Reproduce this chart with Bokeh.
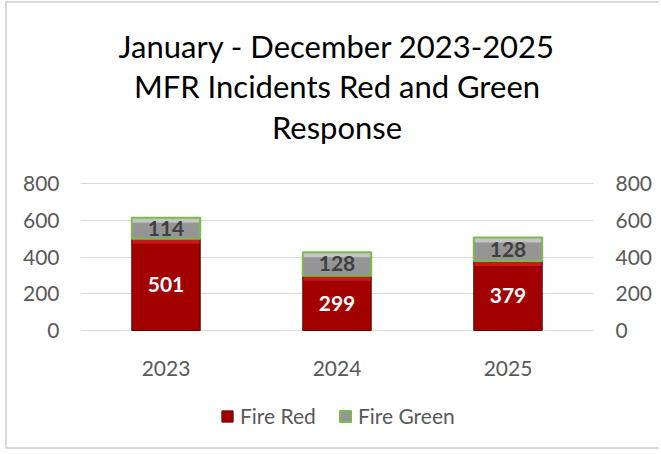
from bokeh.plotting import figure
from bokeh.models import (ColumnDataSource, LabelSet, Legend, LegendItem, LinearAxis,
                          Label, FixedTicker, Range1d, FactorRange)
from bokeh.core.properties import value
from bokeh.embed import file_html
from bokeh.resources import INLINE

years = ["2023", "2024", "2025"]
fire_red = [501, 299, 379]
fire_green = [114, 128, 128]
y_ticks = [0, 200, 400, 600, 800]
title_lines = ["January - December 2023-2025", "MFR Incidents Red and Green", "Response"]

FONT = "Lato"

# ---- layout (canvas px) ----
W, H = 654, 448          # canvas inside css border
FRAME_L, FRAME_R = 73, 586
Y0_PX, Y800_PX = 327.0, 180.3
K = (Y0_PX - Y800_PX) / 800.0            # px per data unit
def v(py):                                 # canvas px -> data value
    return (Y0_PX - py) / K
y_top, y_bot = v(0), v(H)
BAND = 5.0 / K                             # bevel band height in data units
BAR_W = 0.40

red_mid = [r / 2 for r in fire_red]
green_top = [r + g for r, g in zip(fire_red, fire_green)]
green_mid = [r + g / 2 for r, g in zip(fire_red, fire_green)]

src = ColumnDataSource(dict(
    x=years, red=fire_red, green=fire_green, green_top=green_top,
    red_mid=red_mid, green_mid=green_mid,
    red_hi=[r - BAND for r in fire_red],
    green_hi=[t - BAND for t in green_top],
    red_lbl=[str(x) for x in fire_red], green_lbl=[str(x) for x in fire_green],
))

p = figure(x_range=FactorRange(*years), y_range=Range1d(y_bot, y_top),
           width=W, height=H, output_backend="svg", toolbar_location=None,
           x_axis_location=None,
           min_border_left=FRAME_L, min_border_right=W - FRAME_R,
           min_border_top=0, min_border_bottom=0)
p.styles = {"margin-left": "5px", "margin-top": "1px",
            "border-left": "2px solid #d9d9d9", "border-top": "2px solid #d9d9d9",
            "border-bottom": "2px solid #d9d9d9"}
p.title.visible = False
p.outline_line_color = None
p.background_fill_color = "white"
p.border_fill_color = "white"

# bars (with a light bevel band at the top of each segment)
r_red = p.vbar(x="x", bottom=0, top="red", width=BAR_W, source=src,
               fill_color="#A30000", line_color=None)
p.vbar(x="x", bottom="red_hi", top="red", width=BAR_W, source=src,
       fill_color="#C41A1A", line_color=None)
r_red_o = p.vbar(x="x", bottom=0, top="red", width=BAR_W, source=src,
                 fill_color=None, line_color="#5E0000", line_width=1)

r_green = p.vbar(x="x", bottom="red", top="green_top", width=BAR_W, source=src,
                 fill_color="#959595", line_color=None)
p.vbar(x="x", bottom="green_hi", top="green_top", width=BAR_W, source=src,
       fill_color="#C4C4C4", line_color=None)
r_green_o = p.vbar(x="x", bottom="red", top="green_top", width=BAR_W, source=src,
                   fill_color=None, line_color="#7CBA4E", line_width=2)

p.add_layout(LabelSet(x="x", y="red_mid", text="red_lbl", source=src,
                      text_align="center", text_baseline="middle",
                      text_color="white", text_font=value(FONT), text_font_size="21px",
                      text_font_style="bold"))
p.add_layout(LabelSet(x="x", y="green_mid", text="green_lbl", source=src,
                      text_align="center", text_baseline="middle",
                      text_color="#404040", text_font=value(FONT), text_font_size="21px",
                      text_font_style="bold"))

# grid
p.xgrid.grid_line_color = None
p.ygrid.ticker = FixedTicker(ticks=y_ticks)
p.ygrid.grid_line_color = "#d9d9d9"

# y axes
p.yaxis[0].ticker = FixedTicker(ticks=y_ticks)
right_ax = LinearAxis(ticker=FixedTicker(ticks=y_ticks))
p.add_layout(right_ax, "right")
for ax in [p.yaxis[0], right_ax]:
    ax.axis_line_color = None
    ax.major_tick_line_color = None
    ax.minor_tick_line_color = None
    ax.major_tick_out = 0
    ax.major_tick_in = 0
    ax.minor_tick_out = 0
    ax.major_label_text_font = FONT
    ax.major_label_text_font_size = "21px"
    ax.major_label_text_color = "#595959"
p.yaxis[0].major_label_standoff = 21
right_ax.major_label_standoff = 22

# category labels below the zero line
cat_y = v(365.3)
p.text(x=years, y=[cat_y] * len(years), text=years, text_align="center",
       text_baseline="alphabetic", text_font=value(FONT), text_font_size="21px",
       text_color="#595959")

# title lines
for line, base in zip(title_lines, [42.5, 82.5, 123.0]):
    p.add_layout(Label(x=1.5, y=v(base), text=line, text_align="center",
                       text_baseline="alphabetic", text_font=FONT,
                       text_font_size="31px", text_color="#000000"))

legend = Legend(items=[LegendItem(label="Fire Red", renderers=[r_red, r_red_o]),
                       LegendItem(label="Fire Green", renderers=[r_green, r_green_o])],
                orientation="horizontal", location=(220 - 7 - FRAME_L, H - 428 + 3),
                label_text_font=FONT, label_text_font_size="21px",
                label_text_color="#595959", glyph_width=14, glyph_height=14,
                spacing=22, label_standoff=6, border_line_color=None,
                background_fill_alpha=0, padding=0, margin=0)
p.add_layout(legend)

open("out.html", "w").write(file_html(p, INLINE))
